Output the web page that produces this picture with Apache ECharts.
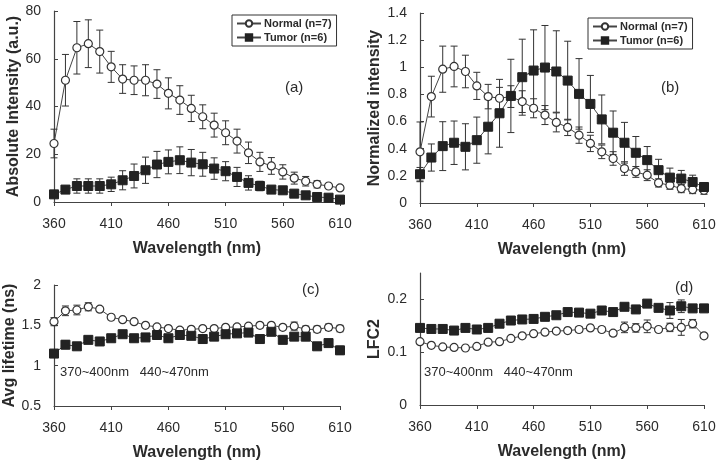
<!DOCTYPE html>
<html>
<head>
<meta charset="utf-8">
<script src="https://cdn.jsdelivr.net/npm/echarts@6/dist/echarts.min.js"></script>
<style>
html,body{margin:0;padding:0;background:#fff;}
#chart{width:722px;height:464px;}
</style>
</head>
<body>
<div id="chart"></div>
<script>
// ---- Data ----
var wavelengths = ['360','370','380','390','400','410','420','430','440','450','460','470','480','490','500','510','520','530','540','550','560','570','580','590','600','610'];

// (a) Absolute intensity
var normalA    = [24.5,51,64.6,66.3,63,56.6,51.5,51,51,49.4,45.5,42.7,39.2,35.7,32.2,29,25.5,20.6,16.8,15.1,12.6,10,8.7,7.4,6.7,5.9];
var normalAErr = [6,10.8,11,10,9,6.5,6,6,6.5,6,6.5,6,5.5,5,5,5,5,4.5,4,3.5,3,2.5,2,1.5,1,1];
var tumorA     = [3.2,5.2,6.7,6.7,6.7,7.4,9.1,10.9,13.3,15.7,16.8,17.5,16.5,15.8,14,12.9,10.5,8,6.7,5.2,4.9,3.5,2.8,2.1,1.8,1];
var tumorAErr  = [0.5,1,3,3,3,3,4,5,5.5,5.5,5,5.6,5.5,5,4.5,4,4,3,2,1,1,0.8,0.8,0.6,0.5,0.5];

// (b) Normalized intensity
var normalB    = [0.377,0.784,0.986,1.006,0.969,0.863,0.784,0.772,0.784,0.747,0.698,0.648,0.594,0.557,0.5,0.439,0.377,0.328,0.254,0.229,0.205,0.148,0.131,0.106,0.099,0.094];
var normalBErr = [0.22,0.15,0.17,0.15,0.12,0.1,0.09,0.08,0.08,0.08,0.07,0.07,0.07,0.06,0.06,0.06,0.05,0.05,0.05,0.04,0.04,0.03,0.03,0.03,0.03,0.03];
var tumorB     = [0.212,0.335,0.419,0.444,0.414,0.463,0.562,0.661,0.789,0.927,0.976,0.998,0.969,0.902,0.804,0.73,0.616,0.518,0.444,0.37,0.316,0.242,0.187,0.18,0.155,0.118];
var tumorBErr  = [0.05,0.1,0.18,0.16,0.17,0.17,0.2,0.25,0.27,0.28,0.3,0.31,0.3,0.29,0.26,0.21,0.18,0.16,0.15,0.12,0.1,0.08,0.07,0.06,0.05,0.03];

// (c) Average lifetime
var normalC    = [1.545,1.68,1.69,1.73,1.7,1.6,1.57,1.545,1.5,1.48,1.46,1.44,1.45,1.46,1.46,1.475,1.48,1.49,1.5,1.5,1.475,1.49,1.45,1.45,1.475,1.46];
var normalCErr = [0.05,0.06,0.06,0.05,0.03,0.03,0.02,0.02,0.02,0.02,0.02,0.03,0.03,0.02,0.02,0.02,0.03,0.03,0.03,0.03,0.03,0.05,0.04,0.04,0.04,0.04];
var tumorC     = [1.15,1.26,1.24,1.32,1.3,1.34,1.39,1.34,1.35,1.38,1.34,1.38,1.37,1.33,1.36,1.39,1.4,1.41,1.33,1.42,1.32,1.36,1.36,1.24,1.28,1.19];
var tumorCErr  = [0.02,0.05,0.03,0.03,0.02,0.02,0.03,0.02,0.02,0.03,0.03,0.03,0.03,0.03,0.03,0.03,0.03,0.03,0.03,0.03,0.03,0.03,0.05,0.03,0.03,0.05];

// (d) LFC2
var normalD    = [0.12,0.113,0.11,0.109,0.108,0.111,0.119,0.12,0.126,0.131,0.135,0.138,0.14,0.141,0.143,0.146,0.143,0.136,0.147,0.146,0.149,0.143,0.147,0.147,0.154,0.131];
var normalDErr = [0.004,0.004,0.003,0.003,0.003,0.003,0.003,0.003,0.003,0.003,0.003,0.004,0.004,0.004,0.005,0.005,0.005,0.005,0.01,0.008,0.012,0.004,0.008,0.015,0.008,0.004];
var tumorD     = [0.146,0.144,0.144,0.141,0.146,0.143,0.146,0.154,0.16,0.162,0.163,0.167,0.17,0.176,0.175,0.173,0.179,0.176,0.186,0.181,0.192,0.184,0.179,0.187,0.183,0.183];
var tumorDErr  = [0.003,0.005,0.003,0.003,0.003,0.003,0.003,0.003,0.003,0.003,0.003,0.003,0.003,0.003,0.003,0.003,0.003,0.003,0.004,0.003,0.004,0.004,0.015,0.012,0.004,0.004];

var normalName = 'Normal (n=7)';
var tumorName = 'Tumor (n=6)';
var panelLabels = ['(a)','(b)','(c)','(d)'];
var rangeNote = '370~400nm   440~470nm';

// ---- Styles ----
var INK = '#2b2b2b';
var FONT = '"Liberation Sans", Arial, sans-serif';

var chart = echarts.init(document.getElementById('chart'), null, {renderer:'canvas'});

function xAxis(idx) {
  return {
    gridIndex: idx, type: 'category', data: wavelengths, boundaryGap: false,
    name: 'Wavelength (nm)', nameLocation: 'middle', nameGap: 39,
    nameTextStyle: {fontFamily: FONT, fontWeight: 'bold', fontSize: 16, color: INK},
    axisLine: {lineStyle: {color: '#444', width: 1.2}},
    axisTick: {show: true, interval: 4, length: 4, lineStyle: {color: '#444'}},
    axisLabel: {interval: 4, margin: 15, fontFamily: FONT, fontSize: 14, color: INK},
    splitLine: {show: false}
  };
}
function yAxis(idx, name, min, max, interval, gap) {
  return {
    gridIndex: idx, type: 'value', min: min, max: max, interval: interval,
    name: name, nameLocation: 'middle', nameGap: gap,
    nameTextStyle: {fontFamily: FONT, fontWeight: 'bold', fontSize: 16, color: INK},
    axisLine: {show: true, lineStyle: {color: '#444', width: 1.2}},
    axisTick: {show: true, inside: true, length: 4, lineStyle: {color: '#444'}},
    axisLabel: {margin: 13, fontFamily: FONT, fontSize: 14, color: INK, showMaxLabel: (max % interval) < 1e-9 || Math.abs(max % interval - interval) < 1e-9},
    splitLine: {show: false}
  };
}
function lineSeries(idx, name, vals, isTumor) {
  return {
    type: 'line', name: name, xAxisIndex: idx, yAxisIndex: idx, data: vals, z: 3,
    symbol: isTumor ? 'rect' : 'circle',
    symbolSize: isTumor ? 9 : 8,
    showAllSymbol: true,
    lineStyle: {color: '#444', width: 1},
    itemStyle: isTumor ? {color: '#222', borderColor: '#222', borderWidth: 1}
                       : {color: '#fff', borderColor: '#333', borderWidth: 1.2},
    emphasis: {disabled: true},
    animation: false
  };
}
function errSeries(idx, vals, errs) {
  return {
    type: 'custom', xAxisIndex: idx, yAxisIndex: idx, z: 2, silent: true, animation: false,
    renderItem: function (params, api) {
      var x = api.value(0), v = api.value(1), e = api.value(2);
      var hi = api.coord([x, v + e]), lo = api.coord([x, v - e]);
      var w = 3.5;
      var st = {stroke: '#333', lineWidth: 1};
      return {type: 'group', children: [
        {type: 'line', shape: {x1: hi[0], y1: hi[1], x2: lo[0], y2: lo[1]}, style: st},
        {type: 'line', shape: {x1: hi[0] - w, y1: hi[1], x2: hi[0] + w, y2: hi[1]}, style: st},
        {type: 'line', shape: {x1: lo[0] - w, y1: lo[1], x2: lo[0] + w, y2: lo[1]}, style: st}
      ]};
    },
    encode: {x: 0, y: 1},
    data: vals.map(function (v, i) { return [i, v, errs[i]]; })
  };
}
function legend(left, top) {
  return {
    left: left, top: top, orient: 'vertical', data: [normalName, tumorName],
    borderColor: '#333', borderWidth: 1, padding: [3, 5, 3, 4], itemGap: 3,
    itemWidth: 24, itemHeight: 8, selectedMode: false,
    textStyle: {fontFamily: FONT, fontSize: 11, color: INK, fontWeight: 'bold', padding: [0, 0, 0, -2]}
  };
}
function label(text, x, y, size) {
  return {type: 'text', left: x, top: y, silent: true,
    style: {text: text, fill: INK, font: (size || 14) + 'px ' + FONT}};
}

var option = {
  backgroundColor: '#fff',
  animation: false,
  grid: [
    {left: 54, top: 11, width: 286, height: 191},
    {left: 420, top: 13, width: 284, height: 190},
    {left: 54, top: 285, width: 286, height: 121},
    {left: 420, top: 273, width: 284, height: 132}
  ],
  xAxis: [xAxis(0), xAxis(1), xAxis(2), xAxis(3)],
  yAxis: [
    yAxis(0, 'Absolute Intensity (a.u.)', 0, 80, 20, 31),
    yAxis(1, 'Normalized intensity', 0, 1.4, 0.2, 37),
    yAxis(2, 'Avg lifetime (ns)', 0.5, 2, 0.5, 32),
    yAxis(3, 'LFC2', 0, 0.25, 0.1, 37)
  ],
  legend: [legend(232, 15), legend(588, 18)],
  graphic: [
    label(panelLabels[0], 285, 80, 15),
    label(panelLabels[1], 661, 80, 15),
    label(panelLabels[2], 302, 282, 15),
    label(panelLabels[3], 675, 280, 15),
    label(rangeNote, 60, 366, 13),
    label(rangeNote, 424, 366, 13)
  ],
  series: [
    errSeries(0, normalA, normalAErr), errSeries(0, tumorA, tumorAErr),
    lineSeries(0, normalName, normalA, false), lineSeries(0, tumorName, tumorA, true),
    errSeries(1, normalB, normalBErr), errSeries(1, tumorB, tumorBErr),
    lineSeries(1, normalName, normalB, false), lineSeries(1, tumorName, tumorB, true),
    errSeries(2, normalC, normalCErr), errSeries(2, tumorC, tumorCErr),
    lineSeries(2, normalName, normalC, false), lineSeries(2, tumorName, tumorC, true),
    errSeries(3, normalD, normalDErr), errSeries(3, tumorD, tumorDErr),
    lineSeries(3, normalName, normalD, false), lineSeries(3, tumorName, tumorD, true)
  ]
};
chart.setOption(option);
</script>
</body>
</html>
